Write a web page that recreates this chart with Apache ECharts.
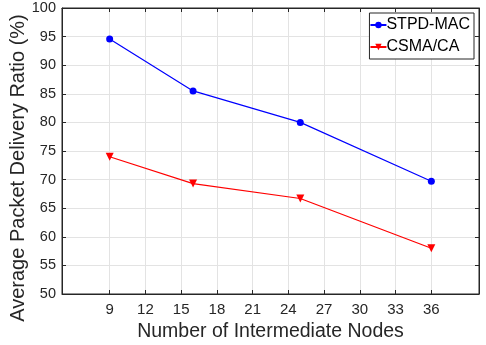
<!DOCTYPE html>
<html>
<head>
<meta charset="utf-8">
<script src="https://cdn.jsdelivr.net/npm/echarts@6/dist/echarts.min.js"></script>
<style>
  html, body { margin: 0; padding: 0; background: #fff; }
  #chart { width: 486px; height: 345px; }
</style>
</head>
<body>
<div id="chart"></div>
<script>
// data
const nodes = [9, 16, 25, 36];
const stpdMac = [94.6, 85.5, 80.0, 69.7];
const csmaCa = [74.0, 69.3, 66.7, 58.0];
const xTicks = [9, 12, 15, 18, 21, 24, 27, 30, 33, 36];

const chart = echarts.init(document.getElementById("chart"), null, { renderer: "canvas" });

const font = "'Liberation Sans', Arial, sans-serif";
const ink = "#262626";
const gridColor = "#e3e3e3";

const pair = (ys) => nodes.map((x, i) => [x, ys[i]]);

const option = {
  backgroundColor: "#fff",
  animation: false,
  textStyle: { fontFamily: font },
  grid: {
    left: 62,
    right: 7,
    top: 8,
    bottom: 51,
    outerBoundsMode: "none",
    containLabel: false,
    show: true,
    borderColor: ink,
    borderWidth: 1,
  },
  legend: {
    orient: "vertical",
    right: 12,
    top: 13,
    backgroundColor: "#fff",
    borderColor: ink,
    borderWidth: 1,
    borderRadius: 0,
    padding: [4, 4, 4, 0],
    itemGap: 6,
    itemWidth: 16,
    itemHeight: 8,
    textStyle: { fontFamily: font, fontSize: 16, color: "#000", padding: [0, 0, 0, -5] },
    data: ["STPD-MAC", "CSMA/CA"],
  },
  xAxis: [
    {
      type: "value",
      min: 5,
      max: 40,
      name: "Number of Intermediate Nodes",
      nameLocation: "middle",
      nameGap: 27,
      nameTextStyle: { fontFamily: font, fontSize: 19.5, color: ink },
      axisLine: { lineStyle: { color: ink } },
      axisTick: { inside: true, length: 4, lineStyle: { color: ink }, customValues: xTicks },
      axisLabel: { fontFamily: font, fontSize: 15, color: ink, margin: 8, customValues: xTicks },
      splitLine: { show: true, lineStyle: { color: gridColor } },
    },
    {
      type: "value",
      position: "top",
      min: 5,
      max: 40,
      axisLine: { show: true, lineStyle: { color: ink } },
      axisTick: { inside: true, length: 4, lineStyle: { color: ink }, customValues: xTicks },
      axisLabel: { show: false },
      splitLine: { show: false },
    },
  ],
  yAxis: [
    {
      type: "value",
      min: 50,
      max: 100,
      interval: 5,
      name: "Average Packet Delivery Ratio (%)",
      nameLocation: "middle",
      nameGap: 34,
      nameMoveOverlap: false,
      nameTextStyle: { fontFamily: font, fontSize: 20, color: ink, padding: [0, 34, 0, 0] },
      axisLine: { show: true, lineStyle: { color: ink } },
      axisTick: { show: true, inside: true, length: 4, lineStyle: { color: ink } },
      axisLabel: { fontFamily: font, fontSize: 14.5, color: ink, margin: 6 },
      splitLine: { show: true, lineStyle: { color: gridColor } },
    },
    {
      type: "value",
      position: "right",
      min: 50,
      max: 100,
      interval: 5,
      axisLine: { show: true, lineStyle: { color: ink } },
      axisTick: { show: true, inside: true, length: 4, lineStyle: { color: ink } },
      axisLabel: { show: false },
      splitLine: { show: false },
    },
  ],
  series: [
    {
      name: "STPD-MAC",
      type: "line",
      data: pair(stpdMac),
      color: "#0000ff",
      lineStyle: { width: 1.2, color: "#0000ff" },
      symbol: "circle",
      symbolSize: 7,
      itemStyle: { color: "#0000ff" },
    },
    {
      name: "CSMA/CA",
      type: "line",
      data: pair(csmaCa),
      color: "#ff0000",
      lineStyle: { width: 1.2, color: "#ff0000" },
      symbol: "triangle",
      symbolRotate: 180,
      symbolSize: 8,
      itemStyle: { color: "#ff0000" },
    },
  ],
};

chart.setOption(option);
</script>
</body>
</html>
